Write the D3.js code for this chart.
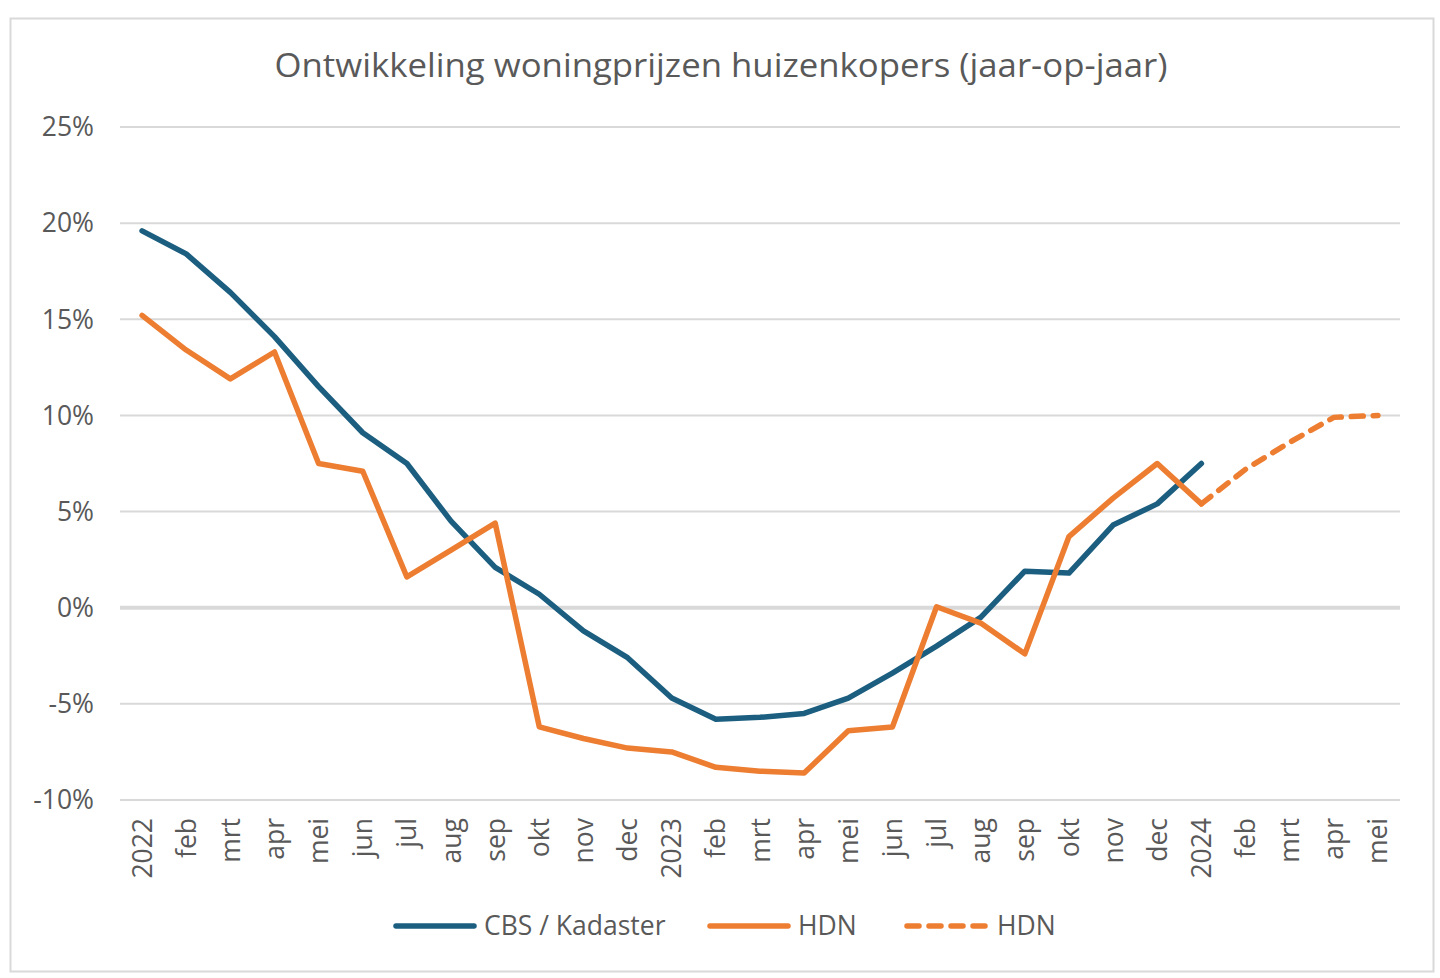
<!DOCTYPE html>
<html>
<head>
<meta charset="utf-8">
<script src="https://cdn.jsdelivr.net/npm/d3@7"></script>
<style>
  body { margin: 0; background: #fff; }
  svg text { font-family: "Open Sans", "Noto Sans", sans-serif; fill: #595959; }
</style>
</head>
<body>
<svg id="chart" width="1440" height="978"></svg>
<script>
// categories on the x axis
const months = ["2022", "feb", "mrt", "apr", "mei", "jun", "jul", "aug", "sep", "okt", "nov", "dec",
                "2023", "feb", "mrt", "apr", "mei", "jun", "jul", "aug", "sep", "okt", "nov", "dec",
                "2024", "feb", "mrt", "apr", "mei"];

// year-on-year change in %
const cbs = [19.6, 18.4, 16.4, 14.1, 11.5, 9.1, 7.5, 4.5, 2.1, 0.7, -1.2, -2.6,
             -4.7, -5.8, -5.7, -5.5, -4.7, -3.4, -2.0, -0.5, 1.9, 1.8, 4.3, 5.4, 7.5];
const hdn = [15.2, 13.4, 11.9, 13.3, 7.5, 7.1, 1.6, 3.0, 4.4, -6.2, -6.8, -7.3,
             -7.5, -8.3, -8.5, -8.6, -6.4, -6.2, 0.05, -0.8, -2.4, 3.7, 5.7, 7.5, 5.4];
const hdnForecast = [5.4, 7.2, 8.6, 9.9, 10.0]; // 2024 .. mei
const forecastStart = 24;

const yTicks = [25, 20, 15, 10, 5, 0, -5, -10];

const blue = "#1b5e80";
const orange = "#ed7d31";

const svg = d3.select("#chart");

// outer frame
svg.append("rect")
    .attr("x", 10.5).attr("y", 18.5)
    .attr("width", 1423).attr("height", 953)
    .attr("fill", "none").attr("stroke", "#d9d9d9").attr("stroke-width", 2);

svg.append("text")
    .attr("x", 721).attr("y", 77)
    .attr("text-anchor", "middle")
    .attr("font-size", 33)
    .attr("textLength", 893)
    .attr("lengthAdjust", "spacingAndGlyphs")
    .text("Ontwikkeling woningprijzen huizenkopers (jaar-op-jaar)");

const x = d3.scaleBand()
    .domain(d3.range(months.length))
    .range([120, 1400]);
const xc = i => x(i) + x.bandwidth() / 2;

const y = d3.scaleLinear().domain([-10, 25]).range([800, 127]);

// gridlines
svg.append("g").selectAll("line")
    .data(yTicks)
    .enter().append("line")
    .attr("x1", 120).attr("x2", 1400)
    .attr("y1", d => y(d)).attr("y2", d => y(d))
    .attr("stroke", "#d9d9d9")
    .attr("stroke-width", d => d === 0 ? 4 : 2);

// y labels
svg.append("g").selectAll("text")
    .data(yTicks)
    .enter().append("text")
    .attr("x", 94)
    .attr("y", d => y(d))
    .attr("dy", "0.35em")
    .attr("text-anchor", "end")
    .attr("font-size", 26.5)
    .text(d => d + "%");

// x labels, rotated
svg.append("g").selectAll("text")
    .data(months)
    .enter().append("text")
    .attr("transform", (d, i) => `translate(${xc(i)},818) rotate(-90)`)
    .attr("dy", "0.36em")
    .attr("text-anchor", "end")
    .attr("font-size", 26.5)
    .text(d => d);

const line = d3.line()
    .x(d => xc(d.i))
    .y(d => y(d.v));

svg.append("path")
    .datum(cbs.map((v, i) => ({i, v})))
    .attr("d", line)
    .attr("fill", "none").attr("stroke", blue)
    .attr("stroke-width", 5.5).attr("stroke-linejoin", "round").attr("stroke-linecap", "round");

svg.append("path")
    .datum(hdn.map((v, i) => ({i, v})))
    .attr("d", line)
    .attr("fill", "none").attr("stroke", orange)
    .attr("stroke-width", 5.5).attr("stroke-linejoin", "round").attr("stroke-linecap", "round");

svg.append("path")
    .datum(hdnForecast.map((v, k) => ({i: forecastStart + k, v})))
    .attr("d", line)
    .attr("fill", "none").attr("stroke", orange)
    .attr("stroke-width", 5.5).attr("stroke-dasharray", "12,10")
    .attr("stroke-linecap", "round");

// legend
const legendItems = [
    {label: "CBS / Kadaster", color: blue, dash: null, x: 396},
    {label: "HDN", color: orange, dash: null, x: 710},
    {label: "HDN", color: orange, dash: "12,10", x: 907}
];
const lg = svg.append("g").selectAll("g")
    .data(legendItems)
    .enter().append("g")
    .attr("transform", d => `translate(${d.x},926)`);
lg.append("line")
    .attr("x1", 0).attr("x2", 78)
    .attr("stroke", d => d.color).attr("stroke-width", 5.5)
    .attr("stroke-dasharray", d => d.dash)
    .attr("stroke-linecap", "round");
lg.append("text")
    .attr("x", d => d.dash ? 90 : 88)
    .attr("dy", "0.35em")
    .attr("font-size", 26.5)
    .text(d => d.label);
</script>
</body>
</html>
